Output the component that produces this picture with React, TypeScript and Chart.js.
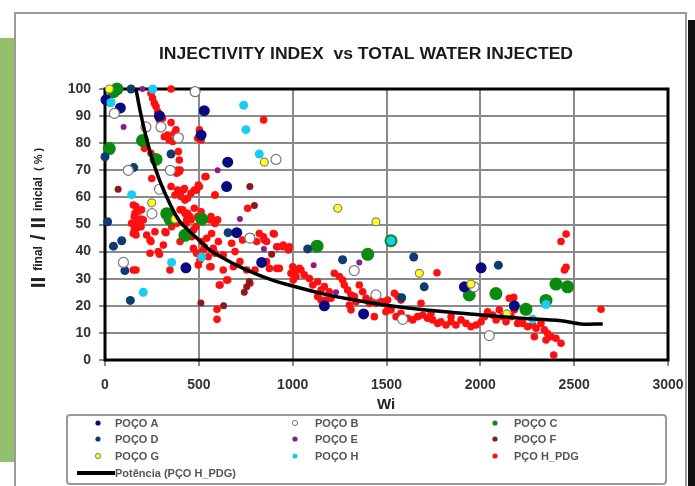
import React, { useEffect, useRef } from 'react';
import { Chart, registerables } from 'chart.js';
Chart.register(...registerables);

type XY = [number, number];

const titleText = 'INJECTIVITY INDEX  vs TOTAL WATER INJECTED';
const xAxisTitle = 'Wi';
const xTickValues = [0, 500, 1000, 1500, 2000, 2500, 3000];
const yTickValues = [0, 10, 20, 30, 40, 50, 60, 70, 80, 90, 100];

const legendNames = ['POÇO A', 'POÇO B', 'POÇO C', 'POÇO D', 'POÇO E', 'POÇO F', 'POÇO G', 'POÇO H', 'PÇO H_PDG'];
const trendName = 'Potência (PÇO H_PDG)';

const pocoA: XY[] = [
  [529, 92], [654, 73], [648, 64], [431, 34], [835, 36], [1378, 17], [1915, 27], [82, 93], [290, 90],
  [512, 83], [2181, 20], [1169, 20], [702, 47], [2004, 34], [5, 96],
];
const pocoB: XY[] = [
  [480, 99], [50, 91], [218, 86], [298, 86], [391, 82], [124, 70], [348, 70], [911, 74], [290, 63],
  [250, 54], [98, 36], [772, 45], [1328, 33], [1444, 24], [1586, 15], [2048, 9], [1967, 27],
];
const pocoC: XY[] = [
  [64, 100], [45, 99], [200, 81], [23, 78], [272, 74], [329, 54], [346, 52], [515, 52], [426, 46],
  [1130, 42], [1400, 39], [1524, 44], [1941, 24], [2083, 24.5], [2243, 18.7], [2350, 22], [2403, 28], [2465, 27],
];
const pocoD: XY[] = [
  [139, 100], [0, 75], [14, 51], [45, 42], [89, 44], [106, 33], [135, 22], [352, 76], [153, 71], [656, 47],
  [1080, 41], [1266, 37], [1645, 38], [1701, 27], [1581, 23], [2096, 35], [30, 95],
];
const pocoE: XY[] = [
  [200, 100], [99, 86], [600, 70], [719, 52], [847, 41], [1112, 35], [1355, 36], [1231, 25],
];
const pocoF: XY[] = [
  [70, 63], [772, 64], [796, 57], [888, 39], [742, 25], [755, 27], [769, 29], [511, 21], [632, 20],
];
const pocoG: XY[] = [
  [23, 100], [249, 58], [849, 73], [1240, 56], [1444, 51], [1675, 32], [1950, 28], [2142, 17], [373, 52],
];
const pocoH: XY[] = [
  [254, 100], [32, 95], [739, 94], [751, 85], [822, 76], [142, 61], [355, 36], [515, 38], [204, 25],
  [1524, 44], [2279, 15], [2350, 20.5],
];
const pcoHPdg: XY[] = [
  [382, 68.9], [400, 70.1], [533, 67.6], [586, 60.9], [488, 62.7], [497, 64.6], [373, 60.9], [417, 62.7],
  [426, 59], [151, 57.2], [160, 54.1], [169, 51.7], [142, 50.4], [169, 48.6], [204, 51.7], [195, 55.4],
  [151, 46.7], [240, 44.3], [320, 47.3], [400, 55.4], [426, 54.1], [435, 51.7], [453, 52.9], [400, 43.7],
  [462, 45.5], [471, 48], [559, 51.7], [586, 50.4], [568, 46.7], [542, 44.9], [515, 43.7], [604, 43.7],
  [524, 40.6], [577, 41.2], [550, 38.1], [586, 39.4], [630, 38.7], [497, 35.1], [559, 34.4], [630, 33.2],
  [684, 34.4], [719, 36.3], [693, 40], [675, 43.1], [808, 43.7], [844, 45.5], [897, 46.7], [861, 43.7],
  [915, 41.8], [950, 42.4], [977, 40.6], [861, 36.3], [915, 33.8], [799, 33.2], [755, 33.2], [648, 29.5],
  [613, 27.7], [772, 28.3], [346, 33.2], [151, 33.2], [240, 39.4], [284, 40], [311, 42.4], [382, 50.4],
  [355, 49.2], [471, 41.2], [488, 39.4], [506, 36.9], [222, 46.1], [266, 47.3], [995, 32], [1021, 33.2],
  [1003, 29.5],
  [245, 98.4], [254, 96.6], [263, 94.7], [272, 93.5], [352, 100], [281, 91.6], [298, 90.4], [307, 89.2],
  [290, 88.6], [352, 87.6], [378, 84.9], [369, 83.6], [316, 82.4], [343, 81.2], [361, 80.6], [334, 83],
  [503, 84.9], [494, 81.8], [512, 81.2], [845, 88.6], [210, 78.1], [245, 76.3], [391, 76.9], [396, 73.8],
  [387, 70.1], [249, 67], [396, 69.5], [538, 67.7], [352, 64], [387, 62.7], [423, 63.3], [458, 61.5],
  [476, 62.7], [503, 64], [405, 60.3], [440, 59.7], [586, 60.9], [165, 56.6], [174, 54.7], [156, 52.9],
  [183, 51.7], [165, 49.8], [192, 49.2], [414, 55.4], [440, 54.1], [476, 56], [494, 52.9], [458, 51.7],
  [432, 50.4], [512, 54.7], [485, 49.2], [600, 51.7], [760, 56], [583, 51], [565, 52.9],
  [991, 32], [1018, 30.8], [1044, 33.2], [1062, 31.4], [1089, 30.1], [1107, 27.7], [1133, 28.9],
  [1151, 25.8], [1169, 27.1], [1195, 25.2], [1222, 32], [1249, 30.8], [1266, 29.5], [1275, 27.7],
  [1293, 25.8], [1311, 24], [1329, 23.4], [1337, 21.5], [1355, 27.7], [1373, 25.2], [1391, 22.8],
  [1409, 20.9], [1426, 22.1], [1444, 20.9], [1471, 21.5], [1488, 20.9], [1506, 18.5], [1302, 20.3],
  [1311, 18.5], [1204, 22.8], [1178, 22.1], [1151, 22.1], [1133, 23.4], [1435, 16], [1000, 34.4],
  [1036, 33.8], [920, 41.8], [947, 41.8], [982, 41.8],
  [733, 44.3], [778, 45.5], [822, 46.7], [849, 44.3], [902, 46.5], [876, 33.8], [929, 33.8], [565, 34.4],
  [609, 27.7], [654, 29.5], [597, 18.7], [597, 15], [494, 39.4], [529, 41.8], [290, 39], [245, 43.7],
  [325, 47], [165, 46.1], [165, 33.2], [156, 48], [174, 50], [192, 52],
  [1480, 21.5], [1497, 17.8], [1524, 18.5], [1551, 16], [1577, 17.2], [1613, 15.4], [1640, 14.8],
  [1666, 16], [1693, 16.6], [1719, 15.4], [1746, 14.8], [1773, 13.5], [1790, 14.1], [1817, 12.9],
  [1844, 14.1], [1870, 12.9], [1897, 14.8], [1924, 13.5], [1950, 12.3], [1977, 12.9], [2004, 14.1],
  [2022, 16], [2039, 17.8], [2066, 16.6], [2084, 14.8], [2101, 18.5], [2119, 16], [2137, 14.1],
  [2164, 16], [2181, 18.5], [2199, 13.5], [2226, 13.5], [2252, 12.3], [2279, 12.9], [2297, 11.7],
  [2323, 13.5], [2341, 11.1], [2359, 9.8], [2377, 8.6], [2403, 8], [2430, 6.2], [2288, 8.6],
  [2350, 7.4], [2391, 1.8], [2154, 22.8], [2178, 23.1], [1542, 24.6], [1560, 23.4], [1577, 22.1],
  [1769, 32.2], [2430, 43.7], [2457, 46.5], [2448, 33.2], [2457, 34.2], [2643, 18.7], [2252, 19.1],
  [1684, 20.9], [1844, 16], [1737, 17.2], [1506, 22.1],
];
const trendLine: XY[] = [
  [165, 100], [190, 91], [220, 82], [250, 74.5], [290, 66.5], [330, 60], [369, 54.5], [400, 51],
  [450, 47.5], [500, 44.3], [559, 40.5], [600, 38.8], [700, 35], [813, 31.5], [900, 29.3], [1000, 27.3],
  [1169, 24.3], [1300, 22.5], [1471, 20.5], [1700, 18.5], [2004, 16.6], [2200, 15.5], [2430, 14.5],
  [2536, 13.3], [2652, 13.3],
];

const toPts = (a: XY[]) => a.map(([x, y]) => ({ x, y }));

const FONT = '"Liberation Sans", Arial, sans-serif';

const styles = {
  A: { fill: '#0A0A80', stroke: '#0A0A80', r: 5.5 },
  B: { fill: '#FFFFFF', stroke: '#7A7A7A', r: 5 },
  C: { fill: '#0B8A12', stroke: '#0B8A12', r: 6.5 },
  D: { fill: '#0E3C70', stroke: '#0E3C70', r: 4.5 },
  E: { fill: '#8E1A8E', stroke: '#8E1A8E', r: 3 },
  F: { fill: '#8B1A1A', stroke: '#8B1A1A', r: 3.5 },
  G: { fill: '#FFFF1A', stroke: '#808080', r: 4 },
  H: { fill: '#19CCF5', stroke: '#19CCF5', r: 4.5 },
  R: { fill: '#FF1010', stroke: '#FF1010', r: 3.8 },
};

const backgroundPlugin = {
  id: 'bg',
  beforeDraw(chart: any) {
    const ctx = chart.ctx;
    ctx.save();
    ctx.fillStyle = '#FFFFFF';
    ctx.fillRect(0, 0, chart.width, chart.height);
    ctx.fillStyle = '#93C06C';
    ctx.fillRect(0, 38, 14, 424);
    ctx.strokeStyle = '#9A9A9A';
    ctx.lineWidth = 2;
    ctx.beginPath();
    ctx.moveTo(15, 490);
    ctx.lineTo(15, 13);
    ctx.lineTo(686, 13);
    ctx.lineTo(686, 490);
    ctx.stroke();
    ctx.fillStyle = '#111111';
    ctx.fillRect(688, 20, 7, 466);
    ctx.restore();
  },
};

const framePlugin = {
  id: 'frame',
  beforeDatasetsDraw(chart: any) {
    const { ctx, chartArea: a } = chart;
    ctx.save();
    ctx.strokeStyle = '#000000';
    ctx.lineWidth = 3;
    ctx.strokeRect(a.left, a.top, a.right - a.left, a.bottom - a.top);
    ctx.restore();
  },
};

const textPlugin = {
  id: 'texts',
  afterDraw(chart: any) {
    const ctx = chart.ctx;
    ctx.save();
    // title
    ctx.fillStyle = '#1A1A1A';
    ctx.font = `bold 16px ${FONT}`;
    ctx.textBaseline = 'alphabetic';
    const tw = ctx.measureText(titleText).width;
    const target = 414;
    ctx.save();
    ctx.translate(366 - target / 2, 59);
    ctx.scale(target / tw, 1);
    ctx.textAlign = 'left';
    ctx.fillText(titleText, 0, 0);
    ctx.restore();

    // x axis title
    ctx.font = `bold 15px ${FONT}`;
    ctx.textAlign = 'center';
    ctx.fillStyle = '#222222';
    ctx.fillText(xAxisTitle, 386, 409);

    // y axis title with subscripts
    const parts = [
      { t: 'II ', f: `bold 21px ${FONT}`, dy: 0 },
      { t: 'final', f: `bold 12px ${FONT}`, dy: -3 },
      { t: ' / II ', f: `bold 21px ${FONT}`, dy: 0 },
      { t: 'inicial', f: `bold 12px ${FONT}`, dy: -3 },
      { t: '  ( % )', f: `bold 11px ${FONT}`, dy: -3 },
    ];
    let total = 0;
    for (const p of parts) {
      ctx.font = p.f;
      total += ctx.measureText(p.t).width;
    }
    ctx.save();
    ctx.translate(45, 218);
    ctx.rotate(-Math.PI / 2);
    ctx.textAlign = 'left';
    let cx = -total / 2;
    for (const p of parts) {
      ctx.font = p.f;
      ctx.fillStyle = '#222222';
      ctx.fillText(p.t, cx, p.dy);
      cx += ctx.measureText(p.t).width;
    }
    ctx.restore();

    // legend
    ctx.strokeStyle = '#9A9A9A';
    ctx.lineWidth = 2;
    ctx.beginPath();
    (ctx as any).roundRect ? (ctx as any).roundRect(67, 415, 599, 69, 3) : ctx.rect(67, 415, 599, 69);
    ctx.stroke();
    const keys = ['A', 'B', 'C', 'D', 'E', 'F', 'G', 'H', 'R'] as const;
    const colMarker = [98, 295, 495];
    const colText = [115, 315, 514];
    const rowY = [423, 439, 456, 473];
    ctx.font = `bold 11px ${FONT}`;
    ctx.textAlign = 'left';
    ctx.textBaseline = 'middle';
    keys.forEach((k, i) => {
      const col = i % 3;
      const row = Math.floor(i / 3);
      const s = (styles as any)[k];
      ctx.beginPath();
      ctx.arc(colMarker[col], rowY[row], 2.6, 0, Math.PI * 2);
      ctx.fillStyle = s.fill;
      ctx.fill();
      if (k === 'B' || k === 'G') {
        ctx.lineWidth = 1;
        ctx.strokeStyle = s.stroke;
        ctx.stroke();
      }
      ctx.fillStyle = '#555555';
      ctx.fillText(legendNames[i], colText[col], rowY[row] + 0.5);
    });
    ctx.strokeStyle = '#000000';
    ctx.lineWidth = 4;
    ctx.beginPath();
    ctx.moveTo(77, rowY[3]);
    ctx.lineTo(115, rowY[3]);
    ctx.stroke();
    ctx.fillStyle = '#555555';
    ctx.fillText(trendName, 115, rowY[3] + 0.5);
    ctx.restore();
  },
};

const mk = (label: string, data: XY[], k: keyof typeof styles) => {
  const s = styles[k];
  return {
    label,
    data: toPts(data),
    pointRadius: s.r,
    pointBackgroundColor: s.fill,
    pointBorderColor: s.stroke,
    pointBorderWidth: k === 'B' || k === 'G' ? 1.2 : 0,
    showLine: false,
    clip: false as any,
  };
};

export default function App() {
  const ref = useRef<HTMLCanvasElement>(null);
  useEffect(() => {
    if (!ref.current) return;
    const chart = new Chart(ref.current, {
      type: 'scatter',
      data: {
        datasets: [
          {
            label: trendName,
            data: toPts(trendLine),
            showLine: true,
            pointRadius: 0,
            borderColor: '#000000',
            borderWidth: 3.5,
            tension: 0.3,
            clip: false as any,
          } as any,
          mk(legendNames[6], pocoG, 'G'),
          mk(legendNames[7], pocoH, 'H'),
          mk(legendNames[4], pocoE, 'E'),
          mk(legendNames[5], pocoF, 'F'),
          mk(legendNames[1], pocoB, 'B'),
          mk(legendNames[0], pocoA, 'A'),
          mk(legendNames[3], pocoD, 'D'),
          mk(legendNames[2], pocoC, 'C'),
          mk(legendNames[8], pcoHPdg, 'R'),
        ],
      },
      options: {
        animation: false,
        responsive: false,
        devicePixelRatio: 1,
        layout: { padding: { left: 0, top: 89, right: 27, bottom: 0 } },
        plugins: {
          legend: { display: false },
          tooltip: { enabled: false },
          title: { display: false },
        },
        scales: {
          x: {
            type: 'linear',
            min: 0,
            max: 3000,
            afterFit: (s: any) => { s.height = 126; },
            afterBuildTicks: (s: any) => { s.ticks = xTickValues.map((v) => ({ value: v })); },
            ticks: {
              padding: 11,
              color: '#333333',
              font: { family: FONT, size: 14, weight: 'bold' },
              maxRotation: 0,
              callback: (v: any) => String(v),
            },
            grid: { color: '#8A8A8A', lineWidth: 2, tickLength: 6, tickColor: '#8A8A8A' },
            border: { display: false },
          },
          y: {
            type: 'linear',
            min: 0,
            max: 100,
            afterFit: (s: any) => { s.width = 105; },
            afterBuildTicks: (s: any) => { s.ticks = yTickValues.map((v) => ({ value: v })); },
            ticks: {
              padding: 8,
              color: '#333333',
              font: { family: FONT, size: 14, weight: 'bold' },
              callback: (v: any) => String(v),
            },
            grid: { color: '#8A8A8A', lineWidth: 2, tickLength: 6, tickColor: '#8A8A8A' },
            border: { display: false },
          },
        },
      } as any,
      plugins: [backgroundPlugin, framePlugin, textPlugin],
    });
    return () => chart.destroy();
  }, []);
  return (
    <div style={{ position: 'fixed', left: 0, top: 0, width: 695, height: 486, background: '#fff' }}>
      <canvas ref={ref} width={695} height={486} style={{ display: 'block', width: 695, height: 486 }} />
    </div>
  );
}
